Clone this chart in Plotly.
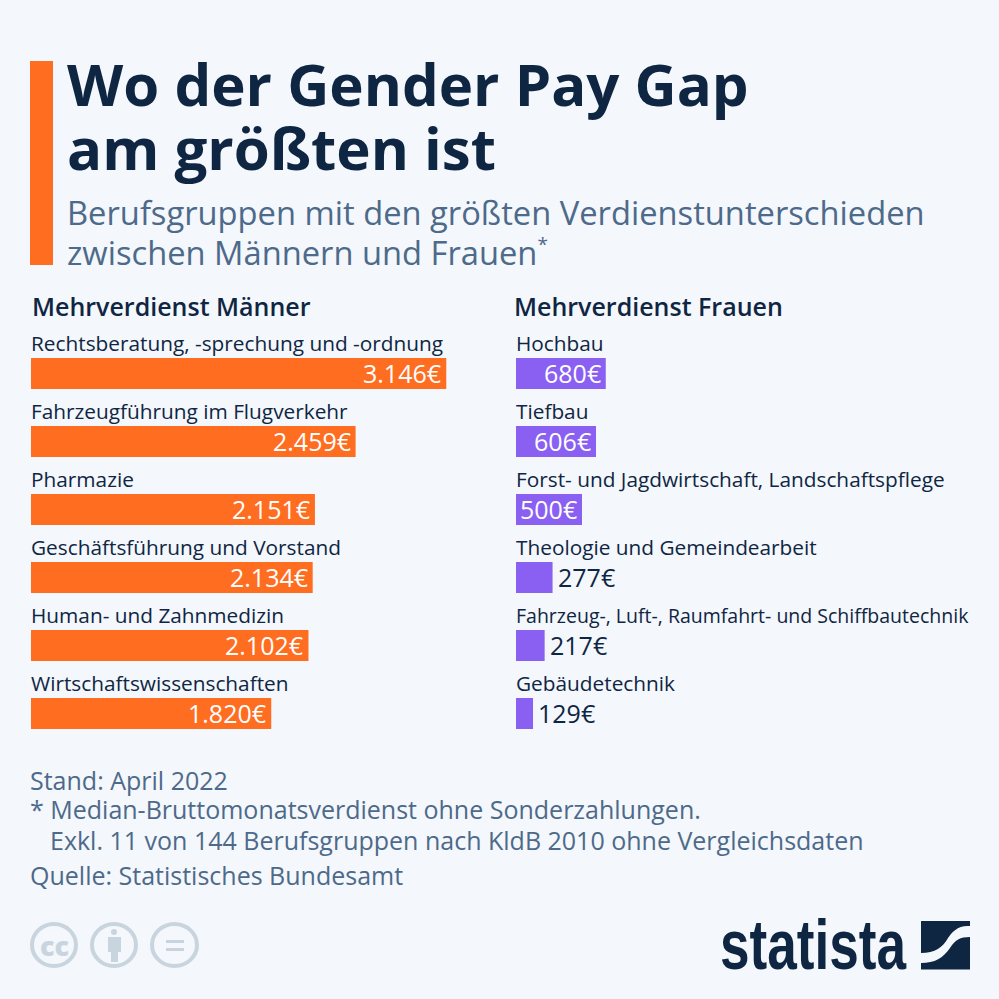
import plotly.graph_objects as go

# data
maenner_labels = ["Rechtsberatung, -sprechung und -ordnung", "Fahrzeugführung im Flugverkehr", "Pharmazie",
                  "Geschäftsführung und Vorstand", "Human- und Zahnmedizin", "Wirtschaftswissenschaften"]
maenner_werte = [3146, 2459, 2151, 2134, 2102, 1820]
maenner_text = ["3.146€", "2.459€", "2.151€", "2.134€", "2.102€", "1.820€"]

frauen_labels = ["Hochbau", "Tiefbau", "Forst- und Jagdwirtschaft, Landschaftspflege",
                 "Theologie und Gemeindearbeit", "Fahrzeug-, Luft-, Raumfahrt- und Schiffbautechnik", "Gebäudetechnik"]
frauen_werte = [680, 606, 500, 277, 217, 129]
frauen_text = ["680€", "606€", "500€", "277€", "217€", "129€"]

NAVY = "#0f2643"
SLATE = "#4d6a8a"
ORANGE = "#ff6d20"
PURPLE = "#8a60f3"
BG = "#f4f7fb"
GREY = "#c9d5de"
FONT = "Open Sans"
PX_PER_EUR = 0.132
SIZE = 999


def px_x(v):
    return v / SIZE


def px_y(v):
    return 1 - v / SIZE


def note(text, x, y, size, color=NAVY, weight=None, anchor="left"):
    font = dict(family=FONT, size=size, color=color)
    if weight:
        font["weight"] = weight
    return dict(text=text, x=px_x(x), y=px_y(y), xref="paper", yref="paper", showarrow=False,
                xanchor=anchor, yanchor="middle", align="left", font=font, borderpad=0, borderwidth=0)


def bar_label(text, y, xaxis, yaxis, size=20.8):
    return dict(text=text, x=0, y=y, xref=xaxis, yref=yaxis, showarrow=False, xanchor="left",
                yanchor="middle", yshift=30.5, borderpad=0, borderwidth=0,
                font=dict(family=FONT, size=size, color=NAVY))


def value_label(text, value, y, xaxis, yaxis, inside):
    return dict(text=text, x=value, y=y, xref=xaxis, yref=yaxis, showarrow=False,
                xanchor="right" if inside else "left", xshift=-5 if inside else 5, yshift=1,
                yanchor="middle", borderpad=0, borderwidth=0,
                font=dict(family=FONT, size=25, weight=500, color="white" if inside else NAVY))


def rect(x0, x1, y0, y1, color):
    return dict(type="rect", xref="paper", yref="paper", x0=px_x(x0), x1=px_x(x1), y0=px_y(y0), y1=px_y(y1),
                fillcolor=color, line_width=0)


def ring(x0, x1, y0, y1):
    return dict(type="circle", xref="paper", yref="paper", x0=px_x(x0), x1=px_x(x1), y0=px_y(y0), y1=px_y(y1),
                line=dict(color=GREY, width=4))


fig = go.Figure()

fig.add_trace(go.Bar(x=maenner_werte, y=maenner_labels, orientation="h", xaxis="x", yaxis="y",
                     marker=dict(color=ORANGE, line_width=0), width=0.456, hoverinfo="skip"))
fig.add_trace(go.Bar(x=frauen_werte, y=frauen_labels, orientation="h", xaxis="x2", yaxis="y2",
                     marker=dict(color=PURPLE, line_width=0), width=0.456, hoverinfo="skip"))

annotations = [
    note("Wo der Gender Pay Gap", 67, 84, 58.2, weight=700),
    note("am größten ist", 67, 147, 58.2, weight=700),
    note("Berufsgruppen mit den größten Verdienstunterschieden", 67, 213, 32.7, SLATE),
    note('zwischen Männern und Frauen<sup><span style="font-size:19px">*</span></sup>', 67, 253, 32.7, SLATE),
    note("Mehrverdienst Männer", 32, 306, 25, weight=600),
    note("Mehrverdienst Frauen", 514, 306, 25, weight=600),
    note("Stand: April 2022", 30, 780, 25, SLATE),
    note("* Median-Bruttomonatsverdienst ohne Sonderzahlungen.", 30, 809, 25, SLATE),
    note("Exkl. 11 von 144 Berufsgruppen nach KldB 2010 ohne Vergleichsdaten", 50, 840, 25, SLATE),
    note("Quelle: Statistisches Bundesamt", 30, 875, 25, SLATE),
    note("cc", 54.5, 945, 27, GREY, weight=800, anchor="center"),
]
logo = note("statista", 720, 945, 70, NAVY, weight=700)
logo["font"]["family"] = "Liberation Sans"
annotations.append(logo)

for lab, val, txt in zip(maenner_labels, maenner_werte, maenner_text):
    annotations.append(bar_label(lab, lab, "x", "y"))
    annotations.append(value_label(txt, val, lab, "x", "y", True))
for lab, val, txt in zip(frauen_labels, frauen_werte, frauen_text):
    annotations.append(bar_label(lab, lab, "x2", "y2", 19.5 if len(lab) > 45 else 20.8))
    annotations.append(value_label(txt, val, lab, "x2", "y2", val >= 500))


def logo_band():
    pts = [(970, 926), (958, 925), (952, 932), (948, 938), (943, 947), (935, 953), (921, 953)]
    low = [(921, 963), (935, 963), (943, 958), (950, 948), (955, 940), (960, 937), (970, 937)]
    p = [f"{px_x(x)},{px_y(y)}" for x, y in pts]
    q = [f"{px_x(x)},{px_y(y)}" for x, y in low]
    return (f"M{p[0]} C{p[1]} {p[2]} {p[3]} C{p[4]} {p[5]} {p[6]} "
            f"L{q[0]} C{q[1]} {q[2]} {q[3]} C{q[4]} {q[5]} {q[6]} Z")


shapes = [
    rect(30, 53, 61, 265, ORANGE),
    # cc icons
    ring(32, 76, 924, 966),
    ring(92, 136, 924, 966),
    ring(152, 197, 924, 966),
    rect(108, 121, 937, 952, GREY),
    rect(111, 118, 950, 962, GREY),
    dict(type="circle", xref="paper", yref="paper", x0=px_x(111), x1=px_x(117), y0=px_y(929), y1=px_y(935),
         fillcolor=GREY, line_width=0),
    rect(166, 184, 940, 943, GREY),
    rect(166, 184, 948, 951, GREY),
    # statista mark
    rect(921, 970, 921, 969.5, NAVY),
    dict(type="path", xref="paper", yref="paper", path=logo_band(), fillcolor=BG, line_width=0),
]

x_dom = [px_x(31), px_x(500)]
x2_dom = [px_x(516), px_x(999)]
y_dom = [px_y(747.5), px_y(339.5)]
axis_off = dict(visible=False, fixedrange=True)

fig.update_layout(
    width=SIZE, height=SIZE, margin=dict(l=0, r=0, t=0, b=0), showlegend=False,
    paper_bgcolor=BG, plot_bgcolor=BG, barmode="overlay",
    xaxis=dict(domain=x_dom, range=[0, 469 / PX_PER_EUR], **axis_off),
    xaxis2=dict(domain=x2_dom, range=[0, 483 / PX_PER_EUR], anchor="y2", **axis_off),
    yaxis=dict(domain=y_dom, range=[5.5, -0.5], **axis_off),
    yaxis2=dict(domain=y_dom, range=[5.5, -0.5], anchor="x2", **axis_off),
    annotations=annotations, shapes=shapes,
)

# no page margin, and squeeze the logo word to its narrow width
post = """
document.body.style.margin = '0';
document.body.style.overflow = 'hidden';
document.querySelectorAll('.annotation-text').forEach(function (t) {
    if (t.textContent === 'statista') {
        t.setAttribute('textLength', '186');
        t.setAttribute('lengthAdjust', 'spacingAndGlyphs');
    }
});
"""
fig.write_html("out.html", post_script=post, config={"displayModeBar": False})
